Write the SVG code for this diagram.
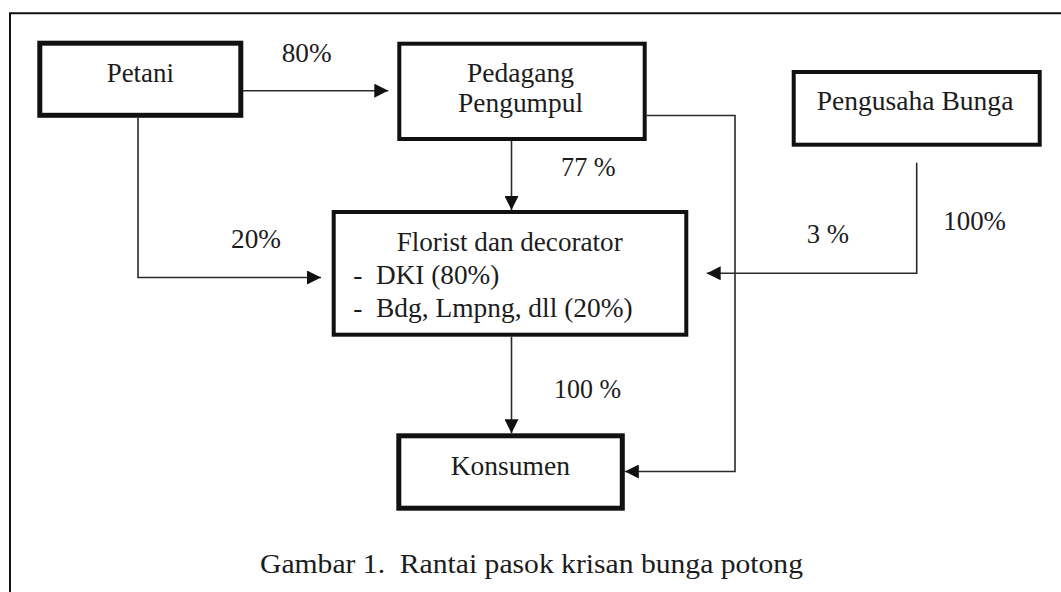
<svg xmlns="http://www.w3.org/2000/svg" width="1061" height="592" viewBox="0 0 1061 592" font-family="'Liberation Serif', 'DejaVu Serif', serif">
<style>
  text { font-family: 'Liberation Serif', 'DejaVu Serif', serif; font-size: 27.5px; fill: #1c1c1c; }
  .box { fill: #ffffff; stroke: #111111; }
  .thick { stroke-width: 5; }
  .mid { stroke-width: 4; }
  .conn { fill: none; stroke: #2a2a2a; stroke-width: 1.6; }
  .frame { fill: none; stroke: #111111; stroke-width: 2; }
</style>
<defs>
  <marker id="arr" markerUnits="userSpaceOnUse" markerWidth="14" markerHeight="14" refX="14" refY="7" orient="auto">
    <path d="M0,0 L14,7 L0,14 z" fill="#111111"/>
  </marker>
</defs>
<rect x="0" y="0" width="1061" height="592" fill="#ffffff"/>
<path class="frame" d="M10,592 V13.3 H1061"/>

<g id="connectors">
  <path class="conn" d="M243,90.7 H388.3" marker-end="url(#arr)"/>
  <path class="conn" d="M138,118 V277.5 H321" marker-end="url(#arr)"/>
  <path class="conn" d="M511.5,141 V210" marker-end="url(#arr)"/>
  <path class="conn" d="M646.7,115.5 H735 V471.5 H624.8" marker-end="url(#arr)"/>
  <path class="conn" d="M916.7,162.7 V273.3 H706.7" marker-end="url(#arr)"/>
  <path class="conn" d="M511.5,336.7 V433.3" marker-end="url(#arr)"/>
</g>

<g id="labels">
  <text x="281.7" y="62.3" textLength="50" lengthAdjust="spacingAndGlyphs">80%</text>
  <text x="561" y="175.7" textLength="54.7" lengthAdjust="spacingAndGlyphs">77 %</text>
  <text x="231" y="248.3" textLength="50" lengthAdjust="spacingAndGlyphs">20%</text>
  <text x="806.7" y="242.7" textLength="42.3" lengthAdjust="spacingAndGlyphs">3 %</text>
  <text x="943.3" y="230" textLength="62.7" lengthAdjust="spacingAndGlyphs">100%</text>
  <text x="554" y="398" textLength="67" lengthAdjust="spacingAndGlyphs">100 %</text>
</g>

<g id="petani">
  <rect class="box thick" x="39.8" y="43.2" width="201" height="72.1"/>
  <text x="106.7" y="82" textLength="67.3" lengthAdjust="spacingAndGlyphs">Petani</text>
</g>

<g id="pedagang">
  <rect class="box mid" x="399.3" y="43.7" width="245.4" height="95.3"/>
  <text x="467" y="81.7" textLength="107" lengthAdjust="spacingAndGlyphs">Pedagang</text>
  <text x="458" y="111.7" textLength="125" lengthAdjust="spacingAndGlyphs">Pengumpul</text>
</g>

<g id="pengusaha">
  <rect class="box mid" x="793.7" y="72" width="246" height="72.7"/>
  <text x="816.7" y="110" textLength="196.7" lengthAdjust="spacingAndGlyphs">Pengusaha Bunga</text>
</g>

<g id="florist">
  <rect class="box mid" x="333.7" y="212" width="352.6" height="122.7"/>
  <text x="396.7" y="251" textLength="226" lengthAdjust="spacingAndGlyphs">Florist dan decorator</text>
  <text x="353.3" y="284">-</text>
  <text x="376" y="284" textLength="123.3" lengthAdjust="spacingAndGlyphs">DKI (80%)</text>
  <text x="353.3" y="316.7">-</text>
  <text x="376" y="316.7" textLength="256.7" lengthAdjust="spacingAndGlyphs">Bdg, Lmpng, dll (20%)</text>
</g>

<g id="konsumen">
  <rect class="box thick" x="398.8" y="435.8" width="223.5" height="72.4"/>
  <text x="450.7" y="475" textLength="119.3" lengthAdjust="spacingAndGlyphs">Konsumen</text>
</g>

<text id="caption" x="260" y="573.3" font-size="28" xml:space="preserve" textLength="543" lengthAdjust="spacingAndGlyphs">Gambar 1.  Rantai pasok krisan bunga potong</text>
</svg>
